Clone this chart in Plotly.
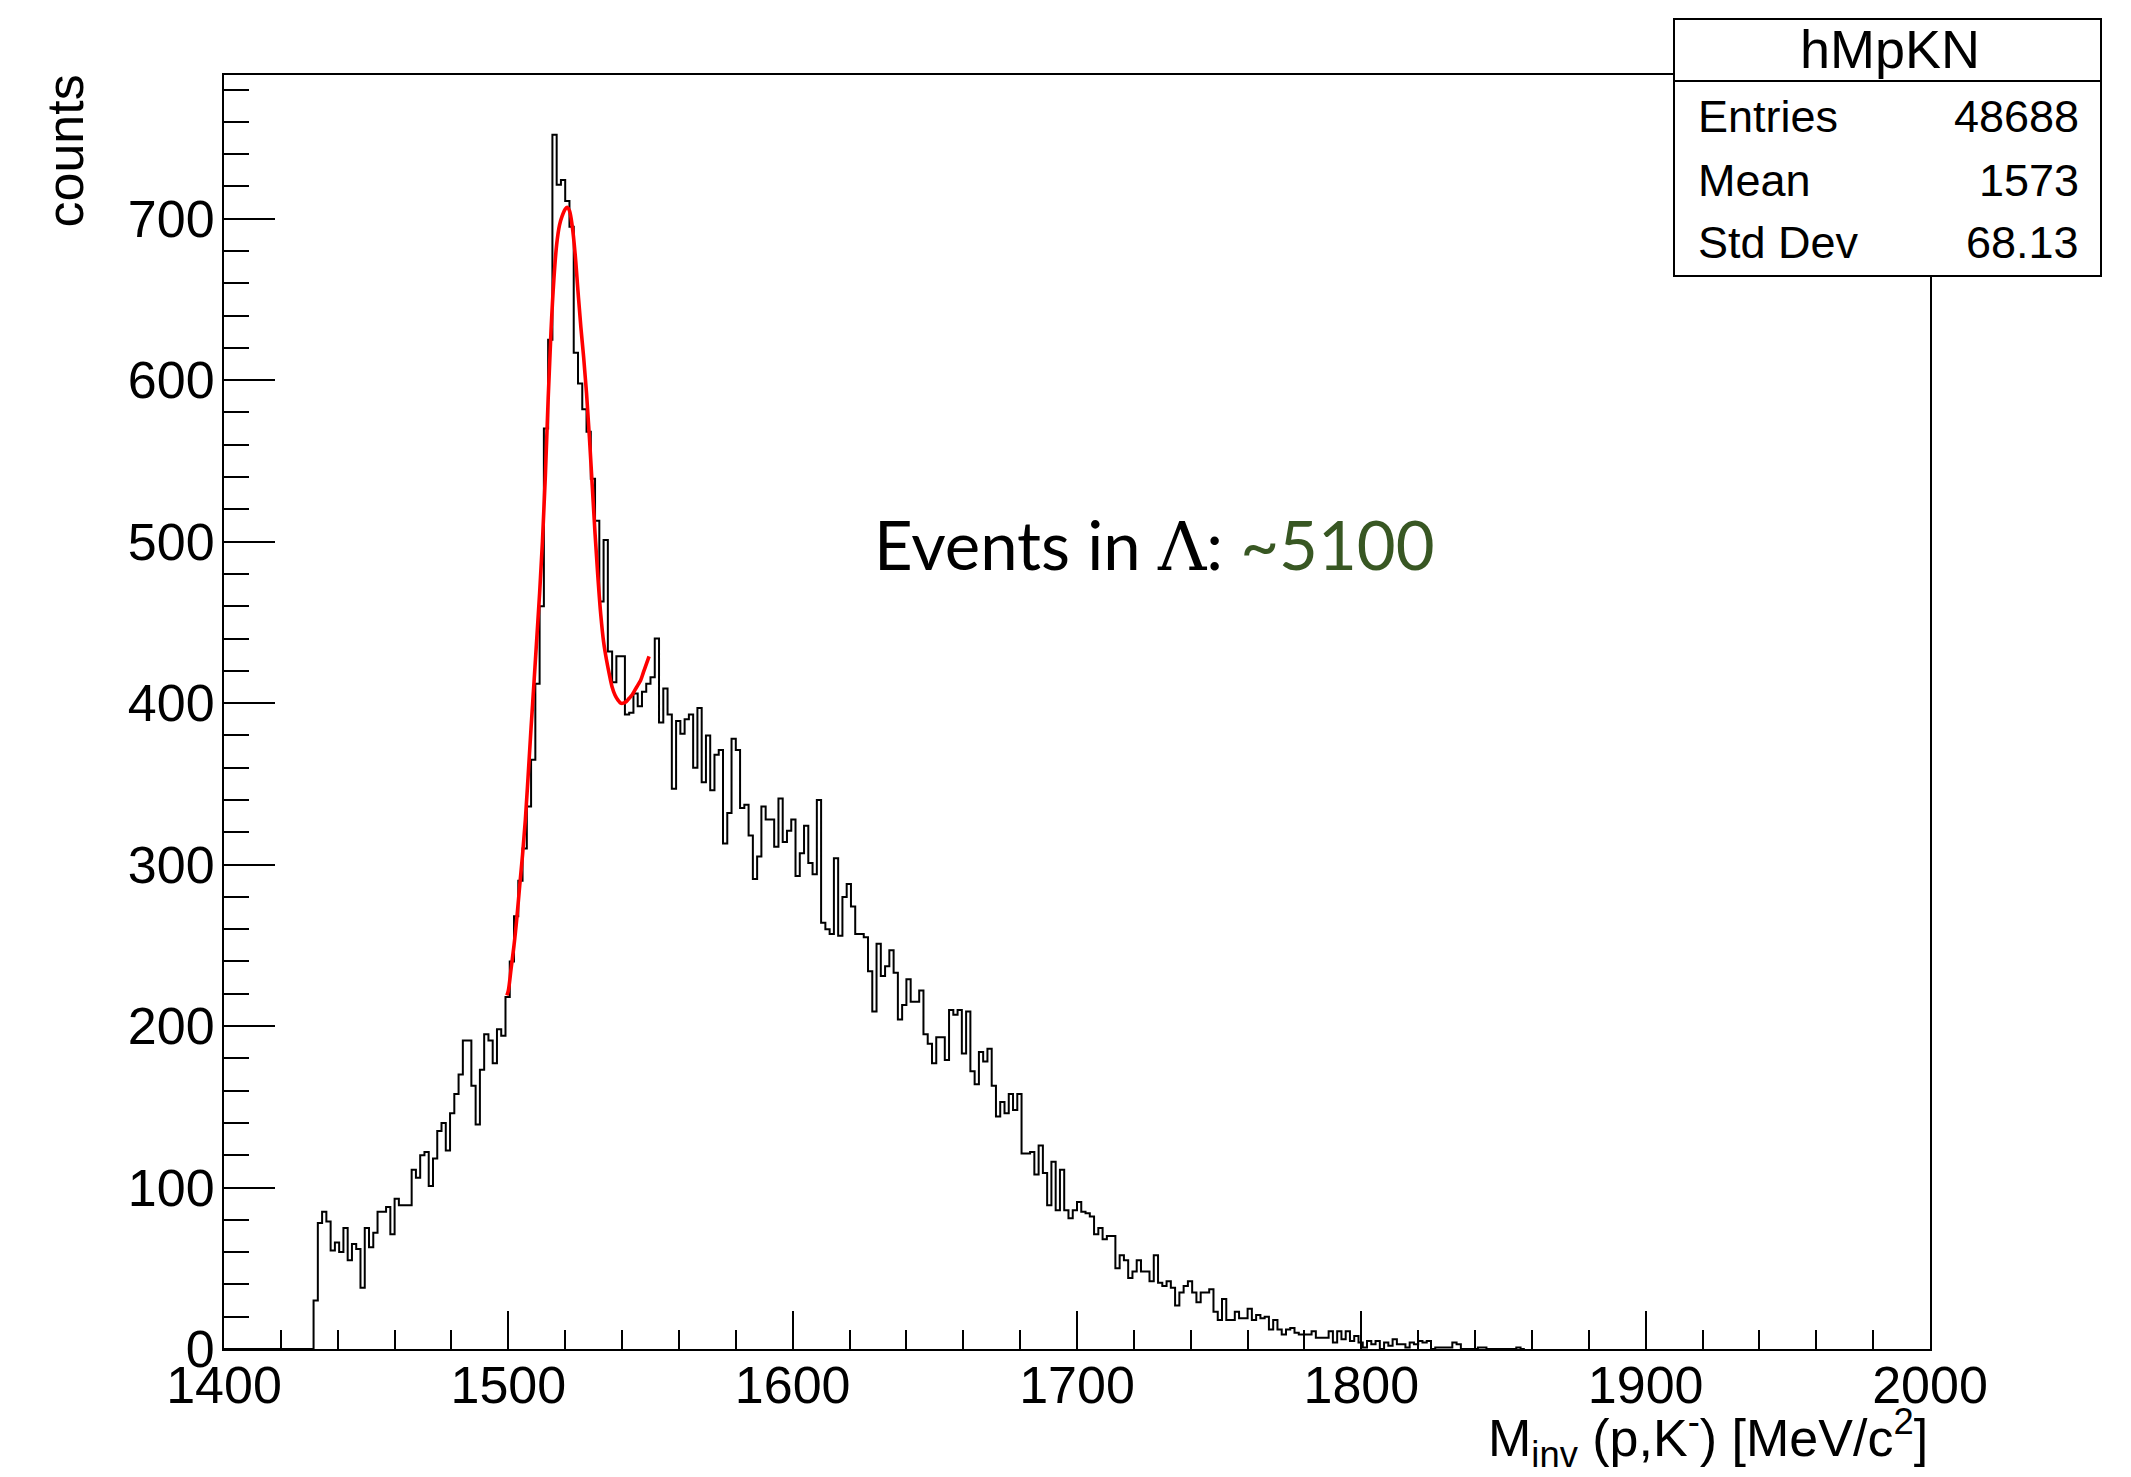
import plotly.graph_objects as go

# ---------------- data ----------------
first_bin_low_edge = 1431.5   # MeV/c^2
bin_width = 1.5               # MeV/c^2
counts = [
    30, 78, 85, 79, 61, 66, 60, 75, 55, 65, 62, 38, 75, 63, 72, 85, 85, 88, 71, 93,
    89, 89, 89, 111, 106, 120, 122, 101, 118, 135, 140, 123, 146, 158, 170, 191, 191, 163, 139, 173,
    195, 191, 177, 198, 194, 218, 240, 268, 290, 310, 336, 365, 412, 460, 570, 625, 752, 721, 724, 711,
    695, 617, 598, 582, 568, 539, 513, 463, 501, 432, 413, 429, 429, 393, 394, 406, 398, 407, 412, 416,
    440, 388, 409, 393, 347, 389, 381, 390, 393, 360, 397, 351, 380, 346, 368, 371, 313, 332, 378, 371,
    335, 337, 318, 291, 305, 336, 328, 328, 311, 341, 314, 321, 328, 293, 307, 324, 301, 294, 340, 264,
    260, 257, 304, 256, 280, 288, 274, 257, 257, 255, 234, 209, 251, 231, 237, 247, 233, 204, 213, 229,
    215, 215, 222, 195, 189, 177, 193, 193, 179, 210, 207, 210, 183, 209, 172, 164, 184, 178, 186, 163,
    144, 153, 146, 158, 148, 158, 121, 121, 122, 108, 126, 109, 89, 116, 86, 111, 86, 81, 86, 91,
    85, 84, 82, 71, 75, 68, 70, 70, 50, 58, 55, 44, 48, 55, 48, 48, 42, 58, 41, 39,
    42, 38, 27, 35, 39, 42, 35, 29, 35, 35, 37, 23, 18, 31, 18, 18, 23, 19, 19, 25,
    18, 21, 19, 20, 12, 18, 12, 9, 12, 13, 10, 9, 9, 9, 11, 7, 7, 7, 11, 4,
    11, 6, 11, 5, 8, 4, 1, 5, 3, 5, 0, 4, 2, 6, 3, 3, 1, 4, 3, 5,
    4, 5, 0, 1, 1, 1, 1, 4, 3, 0, 0, 0, 0, 1, 1, 0, 0, 0, 0, 0,
    0, 0, 1, 0,
]

fit_x = [1499.5, 1500.0, 1501.0, 1502.0, 1503.0, 1504.0, 1505.0, 1506.0, 1507.0, 1508.0,
         1509.0, 1510.0, 1511.0, 1512.0, 1513.0, 1514.0, 1515.0, 1516.0, 1517.0, 1518.0,
         1519.0, 1520.0, 1520.8, 1521.5, 1522.5, 1523.5, 1524.5, 1525.5, 1526.5, 1527.5,
         1528.5, 1529.5, 1530.5, 1531.5, 1532.5, 1533.5, 1534.5, 1535.5, 1536.5, 1537.5,
         1538.5, 1539.5, 1540.5, 1541.5, 1542.5, 1543.5, 1544.5, 1545.5, 1546.5, 1547.5,
         1548.5, 1549.5]
fit_y = [219, 222, 236, 250, 267, 287, 306, 328, 356, 385,
         412, 440, 468, 500, 540, 588, 630, 662, 684, 696,
         702, 706, 707, 705, 695, 678, 655, 633, 614, 592,
         565, 535, 505, 478, 455, 438, 427, 418, 410, 405,
         402, 400, 400, 401, 403, 405, 408, 411, 414, 419,
         424, 429]

x_range = [1400, 2000]
y_range = [0, 789]
x_ticks = [1400, 1500, 1600, 1700, 1800, 1900, 2000]
y_ticks = [0, 100, 200, 300, 400, 500, 600, 700]

stats_title = "hMpKN"
stats_names = ["Entries", "Mean", "Std Dev"]
stats_values = ["48688", "1573", "68.13"]

# ---------------- build step outline ----------------
edges = [first_bin_low_edge + i * bin_width for i in range(len(counts) + 1)]
step_x = [x_range[0]] + edges
step_y = [0] + counts + [counts[-1]]

FONT = "Liberation Sans, Arial, Helvetica, sans-serif"

fig = go.Figure()
fig.add_trace(go.Scatter(x=step_x, y=step_y, mode="lines",
                         line=dict(shape="hv", color="black", width=2),
                         hoverinfo="skip", showlegend=False))
fig.add_trace(go.Scatter(x=fit_x, y=fit_y, mode="lines",
                         line=dict(shape="spline", color="#ff0000", width=3.6),
                         hoverinfo="skip", showlegend=False))

W, H = 2131, 1477
L, R, T, B = 224, 201, 75, 128
pw, ph = W - L - R, H - T - B


def px(x):
    return (x - L) / pw


def py(y):
    return (H - B - y) / ph


fig.update_layout(
    width=W, height=H, autosize=False,
    margin=dict(l=L, r=R, t=T, b=B, pad=0),
    paper_bgcolor="white", plot_bgcolor="white",
    font=dict(family=FONT, color="black", size=52),
    showlegend=False,
)

axis_common = dict(showgrid=False, zeroline=False, showline=True, linecolor="black",
                   linewidth=2, mirror=True, ticks="inside", tickcolor="black",
                   tickwidth=2, tickfont=dict(family=FONT, size=52, color="black"))

fig.update_xaxes(range=x_range, tickmode="array", tickvals=x_ticks,
                 ticktext=[str(v) for v in x_ticks], ticklen=38,
                 minor=dict(ticks="inside", ticklen=19, tickwidth=2, tickcolor="black", dtick=20, tick0=1400),
                 ticklabelstandoff=-10, **axis_common)
fig.update_yaxes(range=y_range, tickmode="array", tickvals=y_ticks,
                 ticktext=[str(v) for v in y_ticks], ticklen=51,
                 minor=dict(ticks="inside", ticklen=25, tickwidth=2, tickcolor="black", dtick=20, tick0=0),
                 ticklabelstandoff=-3, **axis_common)

annotations = []
# axis titles
annotations.append(dict(text="counts", x=px(64), y=py(73), xref="paper", yref="paper",
                        xanchor="center", yanchor="top", textangle=-90, showarrow=False,
                        font=dict(family=FONT, size=52, color="black")))
annotations.append(dict(text="M<sub>inv</sub> (p,K<sup>-</sup>) [MeV/c<sup>2</sup>]",
                        x=1.0, y=py(1438), xref="paper", yref="paper",
                        xanchor="right", yanchor="middle", showarrow=False,
                        font=dict(family=FONT, size=52, color="black")))
# event text
annotations.append(dict(text='Events in <span style="font-family:DejaVu Serif">Λ</span>: '
                             '<span style="color:#385723">~5100</span>',
                        x=px(872), y=py(545), xref="paper", yref="paper",
                        xanchor="left", yanchor="middle", showarrow=False,
                        font=dict(family="Lato, Carlito, sans-serif", size=67, color="black")))

# stats box
shapes = [
    dict(type="rect", xref="paper", yref="paper", x0=px(1674), x1=px(2101), y0=py(276), y1=py(19),
         line=dict(color="black", width=2), fillcolor="white", layer="above"),
    dict(type="line", xref="paper", yref="paper", x0=px(1674), x1=px(2101), y0=py(81), y1=py(81),
         line=dict(color="black", width=2), layer="above"),
]
annotations.append(dict(text=stats_title, x=px(1890), y=py(49), xref="paper", yref="paper",
                        xanchor="center", yanchor="middle", showarrow=False,
                        font=dict(family=FONT, size=54, color="black")))
row_y = [116, 180, 243]
for name, val, yy in zip(stats_names, stats_values, row_y):
    annotations.append(dict(text=name, x=px(1696), y=py(yy), xref="paper", yref="paper",
                            xanchor="left", yanchor="middle", showarrow=False,
                            font=dict(family=FONT, size=45, color="black")))
    annotations.append(dict(text=val, x=px(2081), y=py(yy), xref="paper", yref="paper",
                            xanchor="right", yanchor="middle", showarrow=False,
                            font=dict(family=FONT, size=45, color="black")))

fig.update_layout(annotations=annotations, shapes=shapes)

fig.write_html("out.html")
